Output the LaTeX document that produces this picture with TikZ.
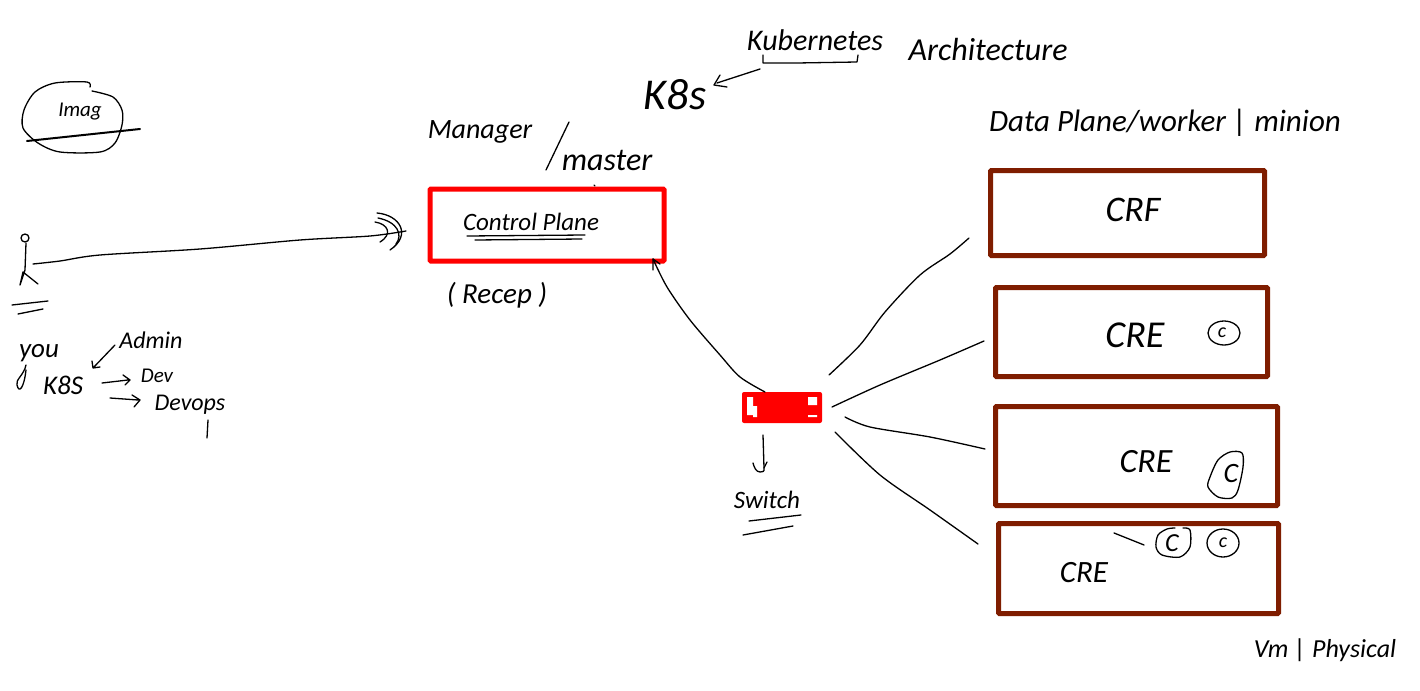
\documentclass[tikz,border=0pt]{standalone}
\usepackage{fontspec}
\setmainfont{Carlito}
\usetikzlibrary{arrows.meta}
\definecolor{redbox}{HTML}{FF0000}
\definecolor{brownbox}{HTML}{7F1D00}
\tikzset{
  hand/.style={line width=1.3pt,line cap=round,line join=round,black},
  heavy/.style={line width=2pt,line cap=round,black},
  lbl/.style={inner sep=0pt,outer sep=0pt,text=black,font=\itshape\fontsize{#1}{#1}\selectfont},
  redframe/.style={draw=redbox,line width=5pt,rounded corners=1pt,inner sep=0pt,outer sep=0pt},
  brownframe/.style={draw=brownbox,line width=5pt,rounded corners=1pt,inner sep=0pt,outer sep=0pt}
}
\begin{document}
\begin{tikzpicture}[x=1pt,y=-1pt]
\useasboundingbox (0,0) rectangle (1420,690);
% main boxes
\node[redframe,minimum width=234pt,minimum height=72pt] (cp) at (547,225) {};
\node[fill=redbox,rounded corners=2pt,minimum width=80pt,minimum height=31pt,inner sep=0pt,outer sep=0pt] (sw) at (782,407.5) {};
\fill[white] (747,397) rectangle (753,415) (753,406) rectangle (757,417) (808,397) rectangle (817,405) (808,415) rectangle (817,417);
\node[brownframe,minimum width=274pt,minimum height=85pt] (b1) at (1127.5,213) {};
\node[brownframe,minimum width=272pt,minimum height=89pt] (b2) at (1131.5,332) {};
\node[brownframe,minimum width=282pt,minimum height=99pt] (b3) at (1136.5,456) {};
\node[brownframe,minimum width=280pt,minimum height=90pt] (b4) at (1138.5,568.5) {};
% labels
\node[lbl=30] (kube) at (815,40) {Kubernetes};
\node[lbl=44] (k8sbig) at (675,95) {K8s};
\node[lbl=32] (arch) at (988,50) {Architecture};
\node[lbl=28] (mgr) at (480,132) {Manager};
\node[lbl=32] (mst) at (607,160) {master};
\node[lbl=25] (ctl) at (531,222) {Control Plane};
\node[lbl=29] (rec) at (497,295) {( Recep )};
\node[lbl=31] (dp) at (1165,123) {Data Plane/worker | minion};
\node[lbl=21] (img) at (80,112) {Imag};
\node[lbl=27] (you) at (39,353) {you};
\node[lbl=27] (k8ss) at (63,385) {K8S};
\node[lbl=24] (adm) at (151,340) {Admin};
\node[lbl=21] (dev) at (157,376) {Dev};
\node[lbl=24] (dop) at (190,405) {Devops};
\node[lbl=25] (swt) at (767,500) {Switch};
\node[lbl=36] (c1) at (1133,210) {CRF};
\node[lbl=38] (c2) at (1135,335) {CRE};
\node[lbl=34] (c3) at (1146,462) {CRE};
\node[lbl=31] (c4) at (1084,573) {CRE};
\node[lbl=26] (vm) at (1325,650) {Vm | Physical};
\node[lbl=20] (pc1) at (1222,333) {c};
\node[lbl=28] (pc2) at (1231,474) {C};
\node[lbl=26] (pc3) at (1172,543) {C};
\node[lbl=20] (pc4) at (1223,543) {c};
% image circle
\draw[hand] plot[smooth] coordinates {(90,87) (87,82) (55,83) (35,92) (24,110) (23,128) (38,143) (60,152) (100,152) (115,143) (122,125) (122,110) (113,97) (92,91)};
\draw[heavy] (27,141) -- (140,129);
% person
\coordinate (head) at (25,238);
\draw[hand] (head) circle (4);
\coordinate (hip) at (25,270);
\draw[hand] (26,243) -- (hip) -- (20,285) -- (23,272) -- (38,284);
\draw[hand] (12,305) -- (48,301) (18,314) -- (43,309);
% long arrow to control plane
\coordinate (ustart) at (33,264);
\coordinate (uend) at (406,231);
\draw[hand] plot[smooth] coordinates {(ustart) (60,261) (100,255) (200,249) (300,240) (370,236) (uend)};
\draw[hand] (377,213) .. controls (400,215) and (412,235) .. (390,250);
\draw[hand] (378,218) .. controls (398,222) and (403,235) .. (396,244);
\draw[hand] (375,222) .. controls (388,224) and (393,234) .. (380,242);
% manager slash etc
\draw[hand] (546,170) -- (569,122);
\draw[hand] (594,185) -- (595,186);
% control plane underlines
\draw[hand] (467,236) -- (585,235);
\draw[hand] (475,240) -- (582,239);
% switch to control plane
\coordinate (swtop) at ([xshift=-17pt]sw.north);
\coordinate (cptip) at ([xshift=-11pt,yshift=2pt]cp.south east);
\draw[hand] plot[smooth] coordinates {(swtop) (740,377) (720,355) (690,320) (667,287) (cptip)};
\draw[hand] (653,270) -- (cptip) -- (660,264);
% switch down arrow
\coordinate (swd) at (763,435);
\coordinate (hookb) at (760,472);
\draw[hand] (swd) -- (764,468) .. controls (765,472) and (762,472) .. (hookb) .. controls (756,472) and (754,467) .. (753,463);
\draw[hand] (764,468) -- (767,462);
\draw[hand] (749,521) -- (801,515);
\draw[hand] (743,535) -- (793,526);
% kubernetes bracket and arrow
\draw[hand] (763,55) -- (763,63) -- (797,63) -- (857,62) -- (858,55);
\coordinate (kb) at (760,69);
\draw[hand] (kb) -- (717,83);
\draw[hand] (720,75) -- (714,85) -- (727,87);
% switch to workers
\coordinate (e1) at (969,238);
\coordinate (e2) at (984,341);
\coordinate (e3) at (985,449);
\coordinate (e4) at (978,544);
\draw[hand] plot[smooth] coordinates {(829,375) (860,345) (885,312) (920,275) (950,254) (e1)};
\draw[hand] plot[smooth] coordinates {(832,407) (880,385) (940,360) (e2)};
\draw[hand] plot[smooth] coordinates {(845,417) (870,427) (930,437) (e3)};
\draw[hand] plot[smooth] coordinates {(835,432) (880,475) (930,510) (e4)};
% small arrows
\draw[hand] (115,345) -- (93,368) (92,361) -- (93,368) -- (100,367);
\draw[hand] (102,383) -- (128,380) (123,375) -- (130,380) -- (125,385);
\draw[hand] (110,398) -- (138,400) (132,395) -- (140,400) -- (134,407);
\draw[hand] (208,420) -- (207,438);
\draw[hand] (26,365) .. controls (24,375) and (15,380) .. (17,385) .. controls (19,394) and (24,388) .. (26,370);
% container outlines
\draw[hand] (1224,333) ellipse (16 and 12);
\draw[hand] plot[smooth cycle] coordinates {(1242,453) (1230,452) (1218,460) (1210,477) (1208,487) (1218,497) (1232,498) (1238,490) (1243,467)};
\draw[hand] plot[smooth] coordinates {(1183,528) (1190,530) (1190,547) (1180,557) (1162,555) (1156,547) (1158,535) (1167,529) (1175,528)};
\draw[hand] (1114,533) -- (1144,545);
\draw[hand] (1223,543) ellipse (16 and 14);
\end{tikzpicture}
\end{document}
